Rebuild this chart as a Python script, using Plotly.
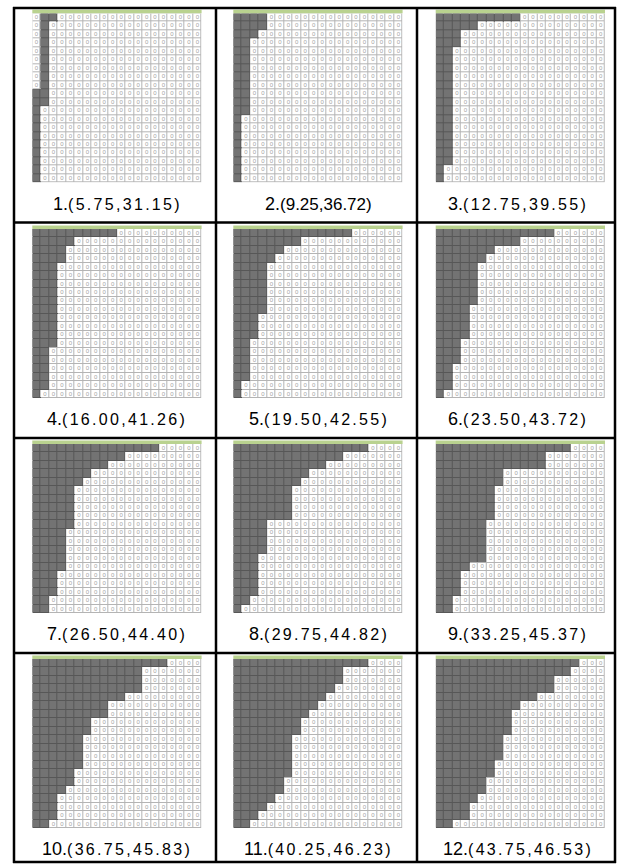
import plotly.graph_objects as go

W, H = 619, 866
N = 20  # cells per side of each grid

# Dark cells in each row of each 20x20 grid, counted from the left edge
runs_01 = [2, 1, 1, 1, 1, 1, 1, 1, 1, 2, 2, 1, 1, 1, 1, 1, 1, 1, 1, 1]
runs_02 = [4, 4, 3, 2, 2, 2, 2, 2, 2, 2, 2, 2, 1, 1, 1, 1, 1, 1, 1, 1]
runs_03 = [10, 5, 3, 3, 2, 2, 2, 2, 2, 2, 2, 2, 2, 2, 2, 2, 2, 2, 1, 1]
runs_04 = [10, 5, 4, 4, 3, 3, 3, 3, 3, 3, 3, 3, 3, 3, 2, 2, 2, 2, 2, 1]
runs_05 = [14, 8, 6, 5, 4, 4, 4, 4, 4, 4, 3, 3, 3, 2, 2, 2, 2, 2, 1, 1]
runs_06 = [14, 10, 7, 6, 5, 5, 5, 5, 5, 4, 4, 4, 4, 3, 3, 3, 2, 2, 2, 1]
runs_07 = [15, 11, 9, 7, 6, 5, 5, 5, 5, 5, 4, 4, 4, 4, 4, 3, 3, 3, 2, 2]
runs_08 = [16, 13, 11, 9, 8, 7, 7, 7, 7, 4, 4, 4, 4, 3, 3, 3, 3, 3, 2, 1]
runs_09 = [16, 13, 13, 8, 8, 7, 7, 7, 7, 6, 6, 6, 6, 6, 4, 3, 3, 3, 2, 2]
runs_10 = [16, 13, 13, 13, 11, 9, 9, 7, 7, 6, 6, 6, 6, 5, 5, 4, 3, 3, 3, 2]
runs_11 = [16, 13, 13, 12, 11, 10, 9, 8, 8, 7, 7, 7, 7, 7, 6, 6, 5, 4, 3, 2]
runs_12 = [17, 16, 14, 14, 12, 10, 9, 9, 9, 8, 8, 8, 7, 7, 6, 6, 5, 4, 4, 2]

# First dark column of each row (grid 1 starts one cell in on its upper rows)
start_01 = [1, 1, 1, 1, 1, 1, 1, 1, 1, 0, 0, 0, 0, 0, 0, 0, 0, 0, 0, 0]
start_00 = [0] * N

panel_runs = [runs_01, runs_02, runs_03, runs_04, runs_05, runs_06,
              runs_07, runs_08, runs_09, runs_10, runs_11, runs_12]
panel_starts = [start_01] + [start_00] * 11

# Second coordinate printed under each grid
second_values = [31.15, 36.72, 39.55, 41.26, 42.55, 43.72,
                 44.40, 44.82, 45.37, 45.83, 46.23, 46.53]

# Geometry (pixels)
col_left = [32.3, 233.3, 435.7]
row_top = [13.3, 229.0, 444.0, 659.0]
grid_size = 169.3
bar_h = 3.6
table_x = [14, 216, 417, 615]
table_y = [8, 222.5, 438, 653, 862]

DARK = "#737373"
DARK_LINE = "#575757"
LIGHT_LINE = "#b4b4b4"
ZERO_COLOR = "#a3a3a3"
BAR_GREEN = "#b9d28f"


def px_x(v):
    return v / W


def px_y(v):
    return 1 - v / H


fig = go.Figure()
layout = dict(
    width=W, height=H,
    margin=dict(l=0, r=0, t=0, b=0),
    paper_bgcolor="white", plot_bgcolor="white",
    showlegend=False,
)
shapes = []
annotations = []

for k, (runs, starts) in enumerate(zip(panel_runs, panel_starts)):
    idx = k + 1
    r, c = divmod(k, 3)
    xa = "x" if idx == 1 else f"x{idx}"
    ya = "y" if idx == 1 else f"y{idx}"

    z = []
    zx, zy = [], []
    for row in range(N):
        line = []
        for col in range(N):
            dark = starts[row] <= col < starts[row] + runs[row]
            line.append(1 if dark else 0)
            if not dark:
                zx.append(col)
                zy.append(row)
        z.append(line)

    # border layer shows through the gaps of the fill layer
    fig.add_trace(go.Heatmap(
        z=z, x=list(range(N)), y=list(range(N)),
        colorscale=[[0, LIGHT_LINE], [1, DARK_LINE]], zmin=0, zmax=1,
        showscale=False, hoverinfo="skip", xaxis=xa, yaxis=ya))
    fig.add_trace(go.Heatmap(
        z=z, x=list(range(N)), y=list(range(N)),
        colorscale=[[0, "#ffffff"], [1, DARK]], zmin=0, zmax=1,
        xgap=1, ygap=1,
        showscale=False, hoverinfo="skip", xaxis=xa, yaxis=ya))
    fig.add_trace(go.Scatter(
        x=zx, y=zy, mode="text", text=["0"] * len(zx),
        textfont=dict(family="Liberation Sans", size=6, color=ZERO_COLOR),
        hoverinfo="skip", xaxis=xa, yaxis=ya))

    x0 = col_left[c]
    y0 = row_top[r]
    axkey = "xaxis" if idx == 1 else f"xaxis{idx}"
    aykey = "yaxis" if idx == 1 else f"yaxis{idx}"
    layout[axkey] = dict(domain=[px_x(x0), px_x(x0 + grid_size)],
                         range=[-0.5, N - 0.5], visible=False,
                         anchor=ya, fixedrange=True)
    layout[aykey] = dict(domain=[px_y(y0 + grid_size), px_y(y0)],
                         range=[N - 0.5, -0.5], visible=False,
                         anchor=xa, fixedrange=True)

    # green strip along the top of the grid
    shapes.append(dict(type="rect", xref="paper", yref="paper",
                       x0=px_x(x0), x1=px_x(x0 + grid_size),
                       y0=px_y(y0), y1=px_y(y0 - bar_h),
                       fillcolor=BAR_GREEN, line=dict(width=0)))

    area = sum(runs) / 4
    pair = f"({area:.2f},{second_values[k]:.2f})"
    if idx == 2:
        tail = f"<span style='font-size:17px'>{pair}</span>"
    else:
        tail = f"<span style='font-size:16px;letter-spacing:2.3px'>{pair}</span>"
    text = f"<span style='font-size:18px'>{idx}.</span>" + tail
    annotations.append(dict(
        xref="paper", yref="paper",
        x=px_x((table_x[c] + table_x[c + 1]) / 2 + 2),
        y=px_y(y0 + grid_size + 21.0),
        text=text, showarrow=False, xanchor="center", yanchor="middle",
        font=dict(family="Liberation Sans", size=16, color="black")))

# table rules
for xv in table_x:
    shapes.append(dict(type="line", xref="paper", yref="paper",
                       x0=px_x(xv), x1=px_x(xv),
                       y0=px_y(table_y[0] - 1), y1=px_y(table_y[-1] + 1),
                       line=dict(color="black", width=2.5)))
for yv in table_y:
    shapes.append(dict(type="line", xref="paper", yref="paper",
                       x0=px_x(table_x[0] - 1), x1=px_x(table_x[-1] + 1),
                       y0=px_y(yv), y1=px_y(yv),
                       line=dict(color="black", width=2.5)))

layout["shapes"] = shapes
layout["annotations"] = annotations
fig.update_layout(**layout)
fig.write_html("out.html")
